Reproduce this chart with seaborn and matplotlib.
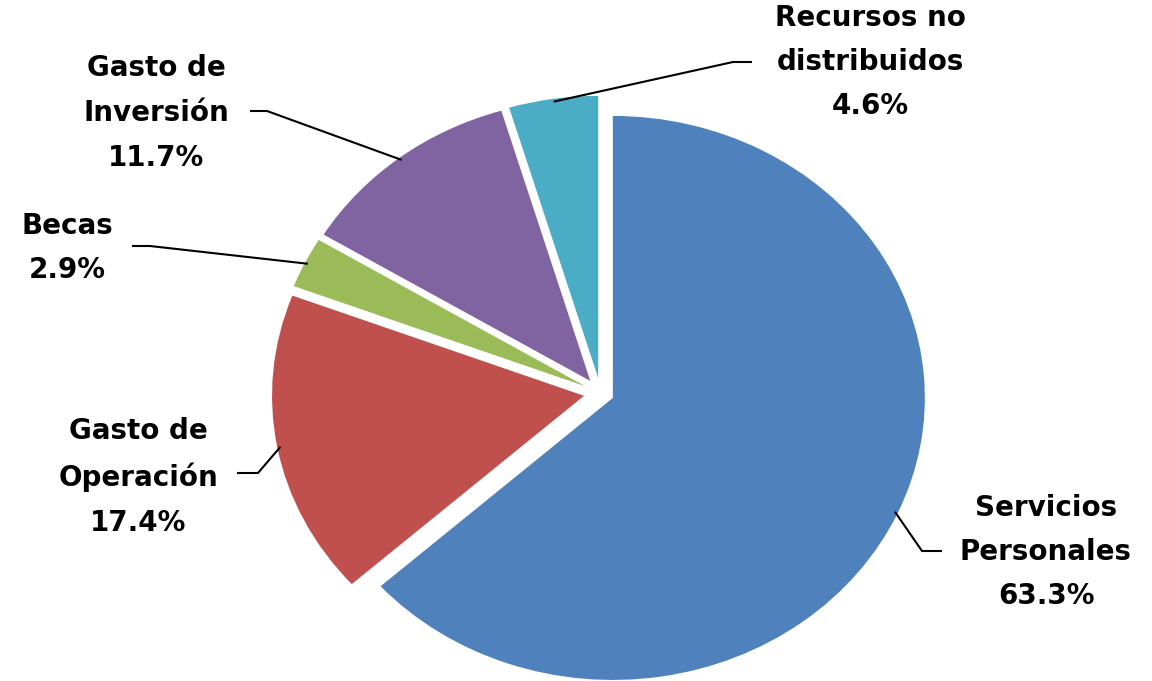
import numpy as np
import matplotlib
matplotlib.use("Agg")
import matplotlib.pyplot as plt
import seaborn as sns

# Budget shares, clockwise from 12 o'clock
categories = ["Servicios\nPersonales", "Gasto de\nOperación", "Becas",
              "Gasto de\nInversión", "Recursos no\ndistribuidos"]
shares = [63.3, 17.4, 2.9, 11.7, 4.6]
colors = ["#4F81BD", "#C0504D", "#9BBB59", "#8064A2", "#4BACC6"]

# Pie placement in pixels (the pie is drawn slightly stretched horizontally)
W, H = 1152, 681
CX, CY, RX, RY = 600.6, 393.0, 312.0, 282.0


def to_data(px, py):
    """Convert a pixel position (origin top-left) to data coords."""
    return (px - CX) / RX, (CY - py) / RY


# label block centres and leader line (text end, elbow) in pixels
label_layout = [
    ((1046, 552), (942, 551), (922, 551)),
    ((138, 477), (237, 473), (258, 473)),
    ((67, 248), (132, 246), (150, 246)),
    ((156, 113), (250, 111), (267, 111)),
    ((870, 62), (752, 62), (733, 62)),
]

sns.set_style("white")
plt.rcParams['font.family'] = ['DejaVu Sans']

fig = plt.figure(figsize=(W / 100, H / 100), dpi=100)
ax = fig.add_axes([0, 0, 1, 1])

explode = [0.043, 0.054, 0.054, 0.054, 0.054]
wedges, _ = ax.pie(shares, colors=colors, startangle=90, counterclock=False,
                   explode=explode, radius=1.0,
                   wedgeprops=dict(linewidth=0))

ax.set_aspect('auto')
ax.set_xlim(-CX / RX, (W - CX) / RX)
ax.set_ylim(-(H - CY) / RY, CY / RY)
ax.axis('off')

for wedge, cat, val, (txt, end, elbow) in zip(wedges, categories, shares, label_layout):
    theta = np.deg2rad((wedge.theta1 + wedge.theta2) / 2)
    wx, wy = wedge.center
    r = wedge.r * 0.99
    anchor = (wx + r * np.cos(theta), wy + r * np.sin(theta))
    p_end = to_data(*end)
    p_elb = to_data(*elbow)
    ax.plot([p_end[0], p_elb[0], anchor[0]], [p_end[1], p_elb[1], anchor[1]],
            color='black', lw=1.5, solid_capstyle='butt')
    tx, ty = to_data(*txt)
    ax.text(tx, ty, f"{cat}\n{val:.1f}%", ha='center', va='center',
            fontsize=20, fontweight='bold', linespacing=1.75, color='black')

fig.savefig('out.png', dpi=100)
